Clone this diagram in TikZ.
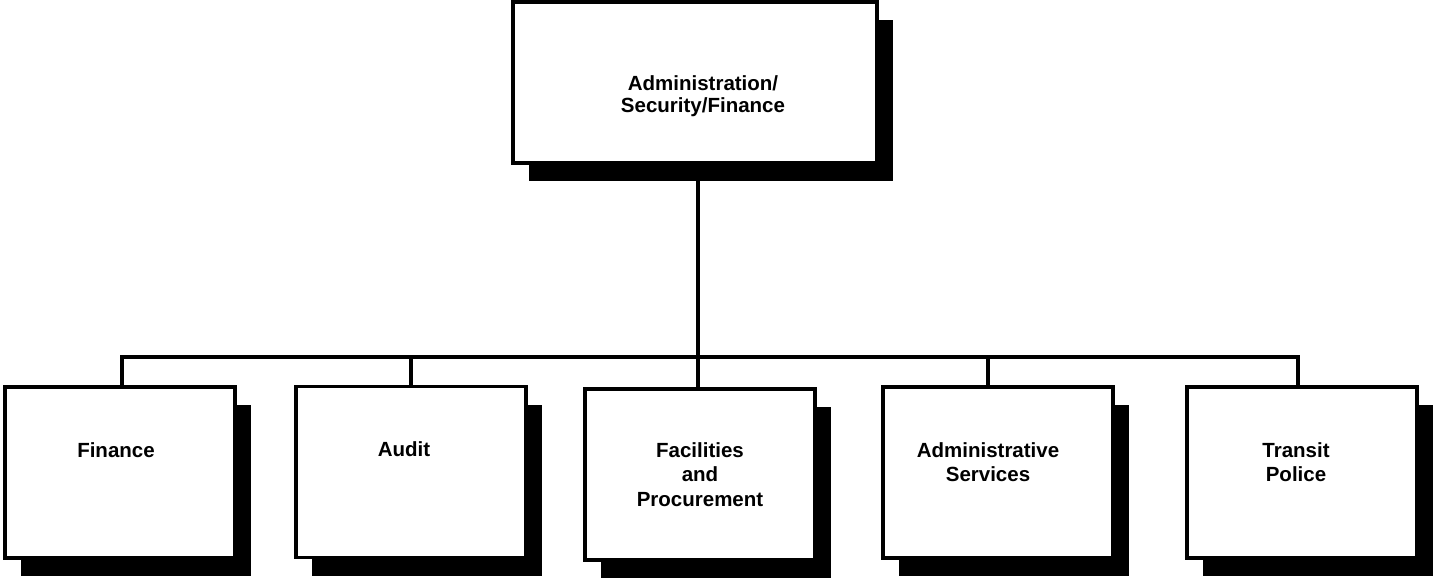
\documentclass[tikz,border=0pt]{standalone}
\usepackage{fontspec}
\setmainfont{Liberation Sans}
\usetikzlibrary{shadows}
\tikzset{
  orgbox/.style={draw=black, line width=3.5pt, fill=white, rectangle, inner sep=0pt,
    minimum width=230pt, minimum height=171pt,
    drop shadow={shadow xshift=16pt, shadow yshift=-18pt, fill=black, opacity=1}},
  lbl/.style={anchor=north, inner sep=0pt, align=center, font=\bfseries\fontsize{20.5}{24.5}\selectfont},
  conn/.style={draw=black, line width=4pt, line join=miter}
}
\begin{document}
\begin{tikzpicture}[x=1pt,y=-1pt]
\useasboundingbox (0,0) rectangle (1438,579);
% boxes
\node[orgbox, minimum width=364pt, minimum height=161pt] (top) at (695,82.5) {};
\node[orgbox] (fin) at (120,472.5) {};
\node[orgbox] (aud) at (411,472) {};
\node[orgbox] (fac) at (700,474.5) {};
\node[orgbox] (adm) at (998,472.5) {};
\node[orgbox] (tra) at (1302,472.5) {};
% labels
\node[lbl, font=\bfseries\fontsize{20.5}{22}\selectfont] (ttop) at (703,75) {Administration/\\Security/Finance};
\node[lbl] (tfin) at (116,442) {Finance};
\node[lbl] (taud) at (404,441) {Audit};
\node[lbl] (tfac) at (700,442) {Facilities\\and\\Procurement};
\node[lbl] (tadm) at (988,442) {Administrative\\Services};
\node[lbl] (ttra) at (1296,442) {Transit\\Police};
% connectors
\coordinate (busy) at (0,357);
\draw[conn] ([xshift=3pt]top.south) -- ([xshift=-2pt]fac.north);
\draw[conn] ([xshift=2pt]fin.north) |- ([xshift=-4pt]tra.north |- busy) -- ([xshift=-4pt]tra.north);
\draw[conn] (aud.north |- busy) -- (aud.north);
\draw[conn] ([xshift=-10pt]adm.north |- busy) -- ([xshift=-10pt]adm.north);
\end{tikzpicture}
\end{document}
